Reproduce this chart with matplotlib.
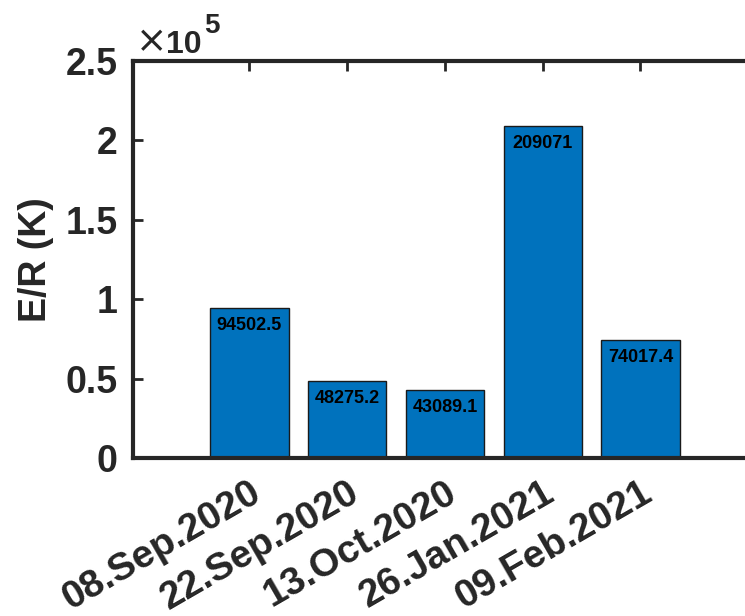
import matplotlib
matplotlib.use("Agg")
import matplotlib.pyplot as plt
import numpy as np

# Measured activation-energy ratios per sampling date
dates = ["08.Sep.2020", "22.Sep.2020", "13.Oct.2020", "26.Jan.2021", "09.Feb.2021"]
er_values = [94502.5, 48275.2, 43089.1, 209071, 74017.4]
y_ticks = [0, 0.5e5, 1.0e5, 1.5e5, 2.0e5, 2.5e5]
y_tick_labels = ["0", "0.5", "1", "1.5", "2", "2.5"]

W, H, DPI = 745, 616, 100
fig = plt.figure(figsize=(W / DPI, H / DPI), dpi=DPI)

ax_left, ax_bottom, ax_top = 133, 458, 61
ax = fig.add_axes([ax_left / W, (H - ax_bottom) / H,
                   1 - ax_left / W, (ax_bottom - ax_top) / H])

spine_col = "#262626"
bar_col = "#0072BD"
x = np.arange(1, len(dates) + 1)

bars = ax.bar(x, er_values, width=0.8, color=bar_col,
              edgecolor="#1a1a1a", linewidth=1.0, zorder=2)

# value annotations just inside the top of each bar
for xi, v in zip(x, er_values):
    ax.annotate(f"{v:g}", xy=(xi, v), xytext=(0, -6.5), textcoords="offset points",
                ha="center", va="top", fontsize=13, fontweight="bold",
                family="Liberation Sans", color="black", zorder=3)

ax.set_xlim(1 - 1.192, 6.07)
ax.set_ylim(0, 2.5e5)

ax.set_yticks(y_ticks)
ax.set_yticklabels(y_tick_labels)
ax.set_xticks(x)
ax.set_xticklabels(dates, rotation=30, ha="right", va="top",
                   rotation_mode="anchor")

for lbl in ax.get_yticklabels():
    lbl.set_fontfamily("Liberation Sans")
    lbl.set_fontweight("bold")
    lbl.set_fontsize(27)
    lbl.set_color(spine_col)
for lbl in ax.get_xticklabels():
    lbl.set_fontfamily("Liberation Sans")
    lbl.set_fontweight("bold")
    lbl.set_fontsize(28)
    lbl.set_color(spine_col)

ax.tick_params(axis="y", direction="in", length=7, width=2, color=spine_col,
               pad=11, right=False)
ax.tick_params(axis="x", direction="in", length=7, width=2, color=spine_col,
               pad=12, top=True)

for side in ["left", "bottom", "top"]:
    ax.spines[side].set_linewidth(3)
    ax.spines[side].set_color(spine_col)
ax.spines["right"].set_visible(False)

ax.set_ylabel("E/R (K)", fontsize=27, fontweight="bold", family="Liberation Sans",
              color=spine_col, labelpad=8)

# exponent multiplier above the y axis
fig.text(136 / W, 1 - 52 / H, "\u00d7", fontsize=27, family="DejaVu Sans",
         color=spine_col, va="baseline", ha="left")
fig.text(166 / W, 1 - 53 / H, "10", fontsize=23, fontweight="bold",
         family="Liberation Sans", color=spine_col, va="baseline", ha="left")
fig.text(204 / W, 1 - 33 / H, "5", fontsize=20, fontweight="bold",
         family="Liberation Sans", color=spine_col, va="baseline", ha="left")

fig.savefig("out.png", dpi=DPI)
